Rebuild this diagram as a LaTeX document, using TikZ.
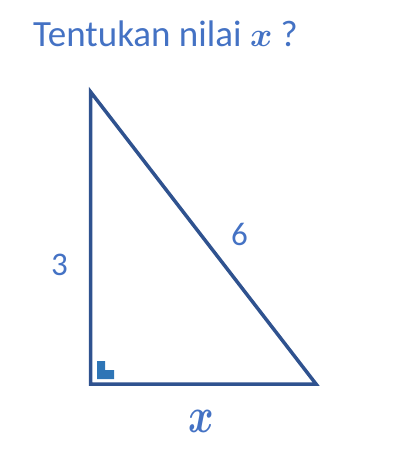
\documentclass[tikz,border=0pt]{standalone}
\usepackage{amsmath}
\usepackage{fontspec}
\setmainfont{Carlito}
\usepackage{graphicx}
\definecolor{txtblue}{HTML}{4472C4}
\definecolor{edgeblue}{HTML}{2F528F}
\definecolor{markblue}{HTML}{2E75B6}
\begin{document}
\begin{tikzpicture}[x=1bp,y=-1bp,
  edge/.style={draw=edgeblue,line width=3.5bp,line join=miter},
  lbl/.style={text=txtblue,inner sep=0pt,font=\fontsize{33bp}{40bp}\selectfont},
  title/.style={text=txtblue,inner sep=0pt,anchor=base west,font=\fontsize{37bp}{44bp}\selectfont}]
\useasboundingbox (0,0) rectangle (405,471);
\coordinate (A) at (90.7,92);
\coordinate (B) at (90.7,384);
\coordinate (C) at (316,384);
\draw[edge] (A) -- (B) -- (C) -- cycle;
\fill[markblue] (97,361) -- (105,361) -- (105,370) -- (114,370) -- (114,379) -- (97,379) -- cycle;
\node[title] (t) at (33,46.7) {Tentukan nilai {\normalsize\scalebox{3.4}{$\boldsymbol{x}$}} ?};
\node[lbl] (a) at (59.5,264.7) {3};
\node[lbl] (c) at (239.5,234.5) {6};
\node[text=txtblue,inner sep=0pt] (b) at (201.5,421.5) {\normalsize\scalebox{3.9}[5]{$\boldsymbol{x}$}};
\end{tikzpicture}
\end{document}
